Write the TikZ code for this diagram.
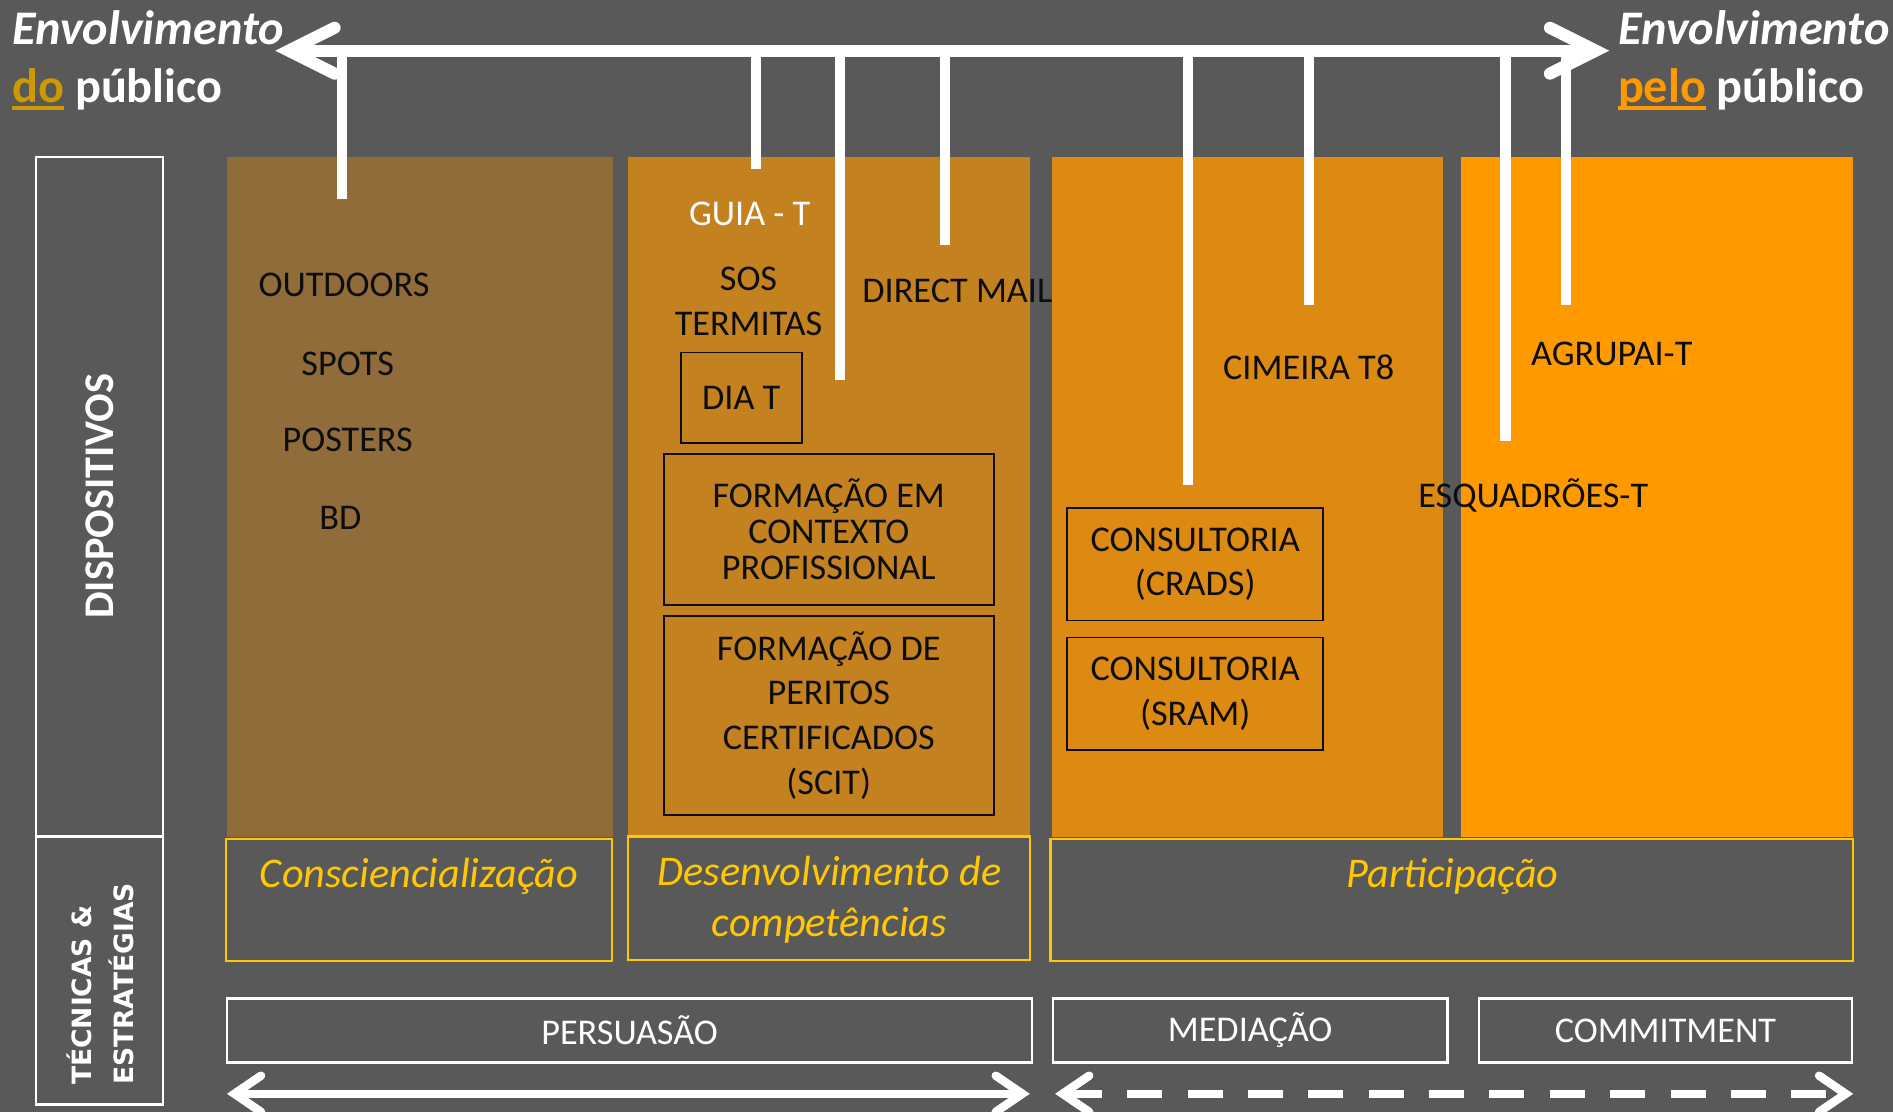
\documentclass[tikz,border=0pt]{standalone}
\usepackage{fontspec}
\setmainfont{Carlito}
\newfontfamily\verdfont{DejaVu Sans}
\usetikzlibrary{arrows.meta}

\definecolor{bgGrey}{HTML}{595959}
\definecolor{colAware}{HTML}{916C3B}
\definecolor{colSkill}{HTML}{C4811F}
\definecolor{colMed}{HTML}{DD8A12}
\definecolor{colPart}{HTML}{FF9900}
\definecolor{lblYellow}{HTML}{FFC800}
\definecolor{doGold}{HTML}{CC9900}
\definecolor{inkBlack}{HTML}{0D0D0D}

% thick coloured underline
\newcommand{\thickul}[1]{\setbox0\hbox{#1}\rlap{\rule[-6pt]{\wd0}{3pt}}\box0}

\tikzset{
  panel/.style={inner sep=0pt, outer sep=0pt, anchor=north west},
  devtxt/.style={font=\fontsize{30}{37}\selectfont, text=inkBlack, inner sep=0pt, align=center},
  devbox/.style={panel, draw=inkBlack, line width=1.5pt, devtxt},
  stagebox/.style={panel, draw=lblYellow, line width=2pt},
  stagetxt/.style={font=\itshape\fontsize{35}{42}\selectfont, text=lblYellow, inner sep=0pt, align=center},
  techbox/.style={panel, draw=white, line width=2pt, text=white, font=\fontsize{30}{30}\selectfont},
  sidebox/.style={panel, draw=white, line width=2pt},
  titletxt/.style={anchor=base west, inner sep=0pt, text=white, font=\bfseries\fontsize{40}{47}\selectfont},
  stem/.style={white, line width=8.5pt},
  topArrow/.style={white, line width=10pt,
    {Straight Barb[length=38pt, width=38pt, line cap=round, line join=miter]}-{Straight Barb[length=38pt, width=38pt, line cap=round, line join=miter]}},
  lowArrow/.style={white, line width=7pt,
    {Straight Barb[length=22pt, width=30pt, line cap=round, line join=miter]}-{Straight Barb[length=22pt, width=30pt, line cap=round, line join=miter]}}
}

\begin{document}
\begin{tikzpicture}[x=1pt, y=-1pt]

% Background
\fill[bgGrey] (0,0) rectangle (1568,921);
\useasboundingbox (0,0) rectangle (1568,921);

% Side labels
\node[sidebox, minimum width=105, minimum height=563] (dispBox) at (30,130) {};
\node[sidebox, minimum width=105, minimum height=222] (tecBox) at (30,693) {};
\node[rotate=90, text=white, inner sep=0pt, font=\bfseries\fontsize{35}{35}\selectfont] (dispTxt) at (83,411) {DISPOSITIVOS};
\node[rotate=90, text=white, inner sep=0pt, align=left, font=\verdfont\bfseries\fontsize{22}{35}\selectfont] (tecTxt) at (83,815) {TÉCNICAS \&\\ESTRATÉGIAS};

% Columns of devices
\node[panel, fill=colAware, minimum width=320, minimum height=563] (aware) at (188,130) {};
\node[panel, fill=colSkill, minimum width=333, minimum height=563] (skill) at (520,130) {};
\node[panel, fill=colMed,   minimum width=324, minimum height=563] (medCol) at (871,130) {};
\node[panel, fill=colPart,  minimum width=325, minimum height=563] (partCol) at (1210,130) {};

% Top arrow: involvement of / by the public
\coordinate (arrL) at (228,42);
\coordinate (arrR) at (1333,42);

% Stems hanging from the top arrow
\foreach \sx/\sy [count=\i] in {283/165, 626/140, 696/315, 783/203, 984/402, 1084/253, 1247/365, 1297/253} {
  \coordinate (stem\i) at (\sx,\sy);
  \draw[stem] (stem\i |- arrL) -- (stem\i);
}
\draw[topArrow] (arrL) -- (arrR);

\node[titletxt, font=\bfseries\itshape\fontsize{40}{47}\selectfont] (envL) at (10,37) {Envolvimento};
\node[titletxt] (doL) at (10,85) {{\color{doGold}\thickul{do}} público};
\node[titletxt, font=\bfseries\itshape\fontsize{40}{47}\selectfont] (envR) at (1340,37) {Envolvimento};
\node[titletxt] (peloR) at (1340,85) {{\color{colPart}\thickul{pelo}} público};

% Awareness devices
\foreach \tx/\ty/\tname/\tlbl in {285/236/outd/OUTDOORS, 288/301/spots/SPOTS, 288/364/post/POSTERS, 282/429/bd/BD} {
  \node[devtxt] (\tname) at (\tx,\ty) {\tlbl};
}

% Skill devices
\node[devtxt, text=white] (guia) at (621,177) {GUIA - T};
\node[devtxt] (sos) at (620,249.5) {SOS\\TERMITAS};
\node[devtxt] (dmail) at (793,241) {DIRECT MAIL};
\node[devbox, minimum width=100, minimum height=75] (diat) at (564,292) {DIA T};
\node[devbox, minimum width=273, minimum height=125, font=\fontsize{30}{30}\selectfont] (fcp) at (550,376) {FORMAÇÃO EM\\CONTEXTO\\PROFISSIONAL};
\node[devbox, minimum width=273, minimum height=165] (fpc) at (550,510) {FORMAÇÃO DE\\PERITOS\\CERTIFICADOS\\(SCIT)};

% Participation devices
\node[devtxt] (cimeira) at (1084,304) {CIMEIRA T8};
\node[devbox, minimum width=212, minimum height=93] (crads) at (884,421) {CONSULTORIA\\(CRADS)};
\node[devbox, minimum width=212, minimum height=93] (sram) at (884,528) {CONSULTORIA\\(SRAM)};
\node[devtxt] (agrup) at (1335,293) {AGRUPAI-T};
\node[devtxt] (esq) at (1270,410) {ESQUADRÕES-T};

% Stages
\node[stagebox, minimum width=320, minimum height=101] (awareBox) at (187,695) {};
\node[stagebox, minimum width=333, minimum height=102] (skillBox) at (520,693) {};
\node[stagebox, minimum width=665, minimum height=101] (partBox) at (870,695) {};
\node[stagetxt] (awareTxt) at (347,726) {Consciencialização};
\node[stagetxt] (skillTxt) at (687,745) {Desenvolvimento de\\competências};
\node[stagetxt] (partTxt) at (1203,726) {Participação};

% Techniques
\node[techbox, minimum width=667, minimum height=53] (pers) at (188,827) {PERSUASÃO};
\node[techbox, minimum width=327, minimum height=53] (medi) at (872,827) {MEDIAÇÃO};
\node[techbox, minimum width=309, minimum height=53] (commit) at (1225,827) {COMMITMENT};

% Bottom arrows
\coordinate (persL) at (188,906);
\coordinate (persR) at (853,906);
\coordinate (partL) at (874,906);
\coordinate (partR) at (1535,906);
\draw[lowArrow] (persL) -- (persR);
\draw[lowArrow, dash pattern=on 29pt off 21pt] (partL) -- (partR);

\end{tikzpicture}
\end{document}
